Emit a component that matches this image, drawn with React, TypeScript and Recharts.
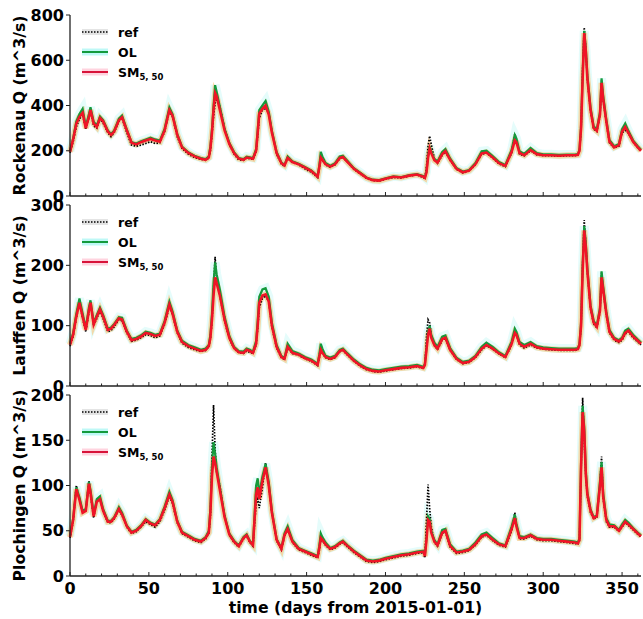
import React from 'react';
import { ComposedChart, Line, XAxis, YAxis } from 'recharts';

// days since 2015-01-01 (denser around flood peaks)
const DAYS = [
  0, 2, 4, 6, 8, 10, 12, 13, 15, 17,
  19, 21, 24, 26, 28, 31, 33, 36, 39, 42,
  45, 48, 51, 54, 57, 60, 63, 65, 68, 71,
  75, 79, 83, 86, 88, 89, 90, 91, 92, 93,
  95, 98, 101, 104, 107, 110, 112, 114, 116, 118,
  119, 120, 122, 124, 126, 128, 131, 134, 136, 138,
  141, 145, 149, 153, 157, 158, 159, 160, 162, 165,
  168, 171, 173, 176, 180, 184, 188, 192, 196, 200,
  205, 210, 215, 220, 224, 225, 226, 227, 228, 229,
  231, 233, 236, 238, 241, 245, 249, 253, 257, 261,
  264, 268, 272, 276, 280, 282, 283, 285, 288, 292,
  296, 300, 305, 310, 315, 320, 322, 323, 324, 325,
  326, 327, 328, 330, 332, 334, 336, 337, 338, 340,
  342, 345, 348, 350, 352, 354, 357, 360, 362,
];

// Rockenau discharge (m^3/s)
const ROCKENAU_REF = [
  190, 240, 305, 340, 360, 295, 345, 375, 310, 300,
  340, 322, 280, 262, 280, 330, 345, 280, 225, 220,
  225, 232, 240, 232, 235, 285, 375, 350, 262, 210,
  185, 170, 162, 158, 168, 200, 270, 350, 410, 430,
  395, 300, 228, 185, 160, 158, 168, 165, 162, 195,
  265, 345, 380, 390, 365, 285, 185, 140, 132, 165,
  148, 138, 120, 105, 82, 118, 160, 158, 138, 127,
  138, 165, 170, 148, 118, 98, 78, 68, 66, 74,
  82, 80, 88, 93, 82, 78, 130, 220, 265, 230,
  165, 145, 180, 195, 158, 118, 102, 110, 138, 185,
  190, 168, 142, 130, 190, 275, 250, 185, 178, 200,
  182, 178, 178, 176, 178, 178, 180, 198, 290, 560,
  745, 650, 515, 375, 295, 285, 355, 510, 425, 325,
  235, 212, 220, 280, 290, 278, 238, 212, 198,
];
const ROCKENAU_OL = [
  198, 255, 330, 362, 385, 308, 362, 392, 328, 312,
  352, 336, 290, 274, 290, 342, 356, 295, 238, 232,
  242, 250, 258, 250, 245, 298, 392, 362, 275, 218,
  193, 178, 168, 163, 175, 220, 295, 400, 490, 460,
  395, 298, 235, 194, 168, 163, 174, 171, 168, 208,
  292, 380, 400, 420, 372, 288, 195, 148, 138, 175,
  154, 143, 128, 113, 88, 132, 195, 175, 146, 134,
  145, 175, 178, 155, 123, 103, 82, 72, 70, 78,
  87, 84, 92, 97, 88, 82, 108, 178, 220, 198,
  164, 153, 195, 208, 166, 124, 108, 115, 146, 198,
  200, 176, 150, 137, 205, 270, 255, 198, 186, 212,
  190, 184, 184, 182, 183, 183, 185, 205, 310, 535,
  730, 655, 535, 392, 308, 295, 372, 520, 445, 340,
  248, 220, 230, 295, 320, 288, 246, 220, 204,
];
const ROCKENAU_SM = [
  195, 250, 320, 350, 368, 300, 350, 380, 320, 305,
  345, 330, 285, 270, 285, 335, 348, 290, 235, 228,
  238, 245, 252, 245, 240, 290, 380, 355, 270, 215,
  190, 175, 165, 160, 170, 210, 280, 380, 455, 440,
  380, 290, 230, 190, 165, 160, 170, 168, 165, 200,
  280, 365, 385, 400, 360, 280, 190, 145, 135, 168,
  150, 140, 125, 110, 85, 125, 170, 160, 140, 130,
  140, 168, 172, 150, 120, 100, 80, 70, 68, 76,
  85, 82, 90, 95, 85, 80, 105, 170, 210, 190,
  158, 148, 185, 198, 160, 120, 105, 112, 140, 188,
  192, 170, 145, 133, 195, 245, 238, 190, 180, 203,
  185, 180, 180, 178, 180, 180, 182, 200, 300, 520,
  720, 640, 520, 380, 300, 288, 360, 500, 430, 330,
  240, 215, 225, 285, 305, 280, 240, 215, 200,
];

// Lauffen discharge (m^3/s)
const LAUFFEN_REF = [
  66, 82, 112, 140, 112, 90, 122, 140, 100, 112,
  125, 112, 90, 92, 98, 110, 108, 88, 74, 76,
  80, 85, 84, 80, 83, 102, 132, 118, 88, 71,
  64, 60, 57, 59, 65, 78, 105, 160, 214, 175,
  150, 108, 78, 62, 55, 54, 58, 56, 54, 68,
  95, 130, 145, 150, 140, 98, 63, 47, 44, 63,
  54, 51, 45, 41, 34, 46, 58, 54, 47, 44,
  47, 57, 59, 51, 41, 33, 27, 24, 23, 25,
  27, 29, 30, 32, 29, 34, 80, 110, 105, 85,
  67, 60, 76, 79, 59, 44, 37, 39, 47, 60,
  67, 61, 53, 47, 68, 92, 86, 68, 63, 68,
  63, 61, 60, 59, 59, 59, 60, 67, 98, 200,
  275, 235, 188, 128, 103, 96, 123, 188, 158, 118,
  88, 76, 72, 76, 86, 90, 80, 73, 68,
];
const LAUFFEN_OL = [
  70, 88, 120, 145, 120, 96, 130, 142, 105, 118,
  130, 118, 95, 97, 103, 114, 113, 92, 78, 80,
  84, 90, 88, 85, 87, 108, 140, 124, 92, 75,
  68, 64, 60, 62, 68, 85, 120, 170, 205, 185,
  160, 115, 83, 65, 58, 57, 62, 60, 57, 75,
  108, 148, 160, 162, 148, 105, 68, 50, 47, 70,
  58, 54, 48, 44, 37, 52, 70, 62, 50, 47,
  50, 60, 62, 54, 44, 36, 30, 27, 26, 28,
  30, 32, 33, 35, 32, 37, 63, 90, 100, 85,
  72, 65, 82, 84, 63, 47, 40, 42, 50, 65,
  72, 65, 56, 50, 74, 95, 90, 73, 68, 73,
  66, 64, 63, 62, 62, 62, 63, 70, 105, 200,
  265, 238, 196, 134, 108, 100, 130, 190, 166, 124,
  93, 80, 76, 80, 92, 95, 85, 77, 72,
];
const LAUFFEN_SM = [
  68, 85, 115, 138, 115, 93, 125, 138, 102, 115,
  127, 115, 93, 95, 101, 112, 110, 90, 76, 78,
  82, 88, 86, 83, 85, 105, 135, 120, 90, 73,
  66, 62, 58, 60, 66, 80, 110, 150, 180, 170,
  150, 110, 80, 63, 56, 55, 60, 58, 55, 70,
  100, 138, 150, 152, 140, 100, 65, 48, 45, 65,
  55, 52, 46, 42, 35, 48, 60, 55, 48, 45,
  48, 58, 60, 52, 42, 34, 28, 25, 24, 26,
  28, 30, 31, 33, 30, 35, 60, 85, 95, 80,
  68, 62, 78, 80, 60, 45, 38, 40, 48, 62,
  68, 62, 54, 48, 70, 88, 85, 70, 65, 70,
  64, 62, 61, 60, 60, 60, 61, 68, 100, 190,
  258, 230, 190, 130, 105, 98, 125, 180, 160, 120,
  90, 78, 74, 78, 88, 92, 82, 75, 70,
];

// Plochingen discharge (m^3/s)
const PLOCHINGEN_REF = [
  42, 60, 100, 85, 70, 72, 105, 90, 64, 84,
  86, 71, 59, 59, 63, 73, 67, 54, 47, 49,
  54, 60, 57, 54, 60, 73, 88, 80, 59, 47,
  43, 39, 37, 41, 47, 65, 130, 189, 140, 114,
  100, 66, 45, 37, 32, 41, 44, 37, 33, 80,
  85, 75, 98, 125, 100, 69, 39, 29, 44, 51,
  37, 29, 26, 23, 20, 28, 40, 39, 34, 29,
  31, 35, 37, 32, 26, 21, 16, 15, 16, 18,
  20, 22, 23, 25, 26, 20, 60, 101, 75, 55,
  37, 33, 47, 49, 32, 25, 26, 28, 34, 43,
  45, 39, 34, 32, 50, 70, 56, 41, 41, 44,
  40, 39, 39, 38, 37, 36, 35, 39, 115, 197,
  150, 110, 88, 70, 63, 65, 100, 132, 86, 60,
  54, 54, 49, 54, 59, 56, 51, 46, 43,
];
const PLOCHINGEN_OL = [
  44, 64, 98, 87, 72, 74, 104, 95, 68, 85,
  88, 74, 61, 61, 65, 76, 70, 56, 49, 51,
  56, 63, 59, 57, 63, 77, 93, 84, 61, 49,
  45, 41, 39, 43, 50, 75, 120, 148, 135, 120,
  98, 67, 47, 39, 34, 43, 46, 39, 35, 100,
  108, 90, 110, 124, 104, 72, 41, 31, 47, 55,
  40, 31, 28, 25, 22, 33, 47, 43, 37, 31,
  33, 37, 39, 34, 28, 23, 18, 17, 18, 20,
  22, 24, 25, 27, 28, 23, 42, 66, 63, 50,
  40, 35, 51, 52, 35, 27, 28, 30, 37, 46,
  48, 42, 36, 34, 55, 68, 58, 44, 43, 46,
  42, 41, 41, 40, 39, 38, 37, 42, 125, 188,
  165, 118, 92, 74, 65, 67, 105, 126, 92, 64,
  57, 56, 51, 57, 62, 59, 53, 48, 45,
];
const PLOCHINGEN_SM = [
  43, 62, 96, 84, 70, 72, 102, 92, 66, 82,
  85, 72, 60, 60, 64, 74, 68, 55, 48, 50,
  55, 62, 58, 56, 62, 75, 90, 82, 60, 48,
  44, 40, 38, 42, 48, 70, 110, 132, 125, 115,
  95, 65, 46, 38, 33, 42, 45, 38, 34, 90,
  98, 85, 105, 120, 100, 70, 40, 30, 45, 52,
  38, 30, 27, 24, 21, 30, 42, 40, 35, 30,
  32, 36, 38, 33, 27, 22, 17, 16, 17, 19,
  21, 23, 24, 26, 27, 22, 40, 62, 60, 48,
  38, 34, 48, 50, 33, 26, 27, 29, 35, 44,
  46, 40, 35, 33, 52, 64, 55, 42, 42, 45,
  41, 40, 40, 39, 38, 37, 36, 40, 120, 181,
  160, 112, 90, 72, 64, 66, 100, 120, 88, 62,
  55, 55, 50, 55, 60, 57, 52, 47, 44,
];

const X_TICKS = [0, 10, 20, 30, 40, 50, 60, 70, 80, 90, 100, 110, 120, 130, 140, 150, 160, 170, 180,
  190, 200, 210, 220, 230, 240, 250, 260, 270, 280, 290, 300, 310, 320, 330, 340, 350, 360];
const ROCKENAU_TICKS = [0, 200, 400, 600, 800];
const LAUFFEN_TICKS = [0, 100, 200, 300];
const PLOCHINGEN_TICKS = [0, 50, 100, 150, 200];

const FONT = '"DejaVu Sans", sans-serif';
const AXIS = '#222';
const OL_COLOR = '#149a3c';
const SM_COLOR = '#f01426';
const PLOT_LEFT = 70;
const PLOT_H = 181;

const makeXTick = (showLabel: boolean) => (props: any) => {
  const { x, y, payload } = props;
  const major = payload.value % 50 === 0;
  return (
    <g>
      <line x1={x} x2={x} y1={y} y2={y - (major ? 4 : 2.5)} stroke={AXIS} strokeWidth={1} />
      {showLabel && major && (
        <text x={x} y={y + 18} textAnchor="middle" fontSize={16} fontWeight="bold" fontFamily={FONT} fill="#000">
          {payload.value}
        </text>
      )}
    </g>
  );
};

interface PanelProps {
  top: number;
  marginTop: number;
  xAxisHeight: number;
  showXLabels: boolean;
  refQ: number[];
  olQ: number[];
  smQ: number[];
  yMax: number;
  yTicks: number[];
}

const Panel: React.FC<PanelProps> = ({ top, marginTop, xAxisHeight, showXLabels, refQ, olQ, smQ, yMax, yTicks }) => {
  const rows = DAYS.map((day, i) => ({ day, ref: refQ[i], ol: olQ[i], sm: smQ[i] }));
  const height = marginTop + PLOT_H + xAxisHeight;
  return (
    <div style={{ position: 'absolute', left: 0, top, width: 643, height }}>
      <ComposedChart width={643} height={height} data={rows} margin={{ top: marginTop, right: 2, bottom: 0, left: 10 }}>
        <XAxis
          dataKey="day"
          type="number"
          domain={[0, 362]}
          ticks={X_TICKS}
          interval={0}
          height={xAxisHeight}
          tickSize={0}
          tickMargin={0}
          tickLine={false}
          tick={makeXTick(showXLabels)}
          axisLine={{ stroke: AXIS, strokeWidth: 1.3 }}
        />
        <XAxis xAxisId="top" orientation="top" dataKey="day" type="number" domain={[0, 362]} height={0}
          tick={false} tickLine={false} axisLine={{ stroke: AXIS, strokeWidth: 1.3 }} />
        <YAxis
          type="number"
          domain={[0, yMax]}
          ticks={yTicks}
          interval={0}
          width={PLOT_LEFT - 10}
          tickSize={4}
          tickMargin={2}
          tickLine={{ stroke: AXIS }}
          axisLine={{ stroke: AXIS, strokeWidth: 1.3 }}
          tick={{ fontSize: 16, fontWeight: 'bold', fill: '#000', fontFamily: FONT }}
        />
        <YAxis yAxisId="right" orientation="right" type="number" domain={[0, yMax]} width={0}
          tick={false} tickLine={false} axisLine={{ stroke: AXIS, strokeWidth: 1.3 }} />

        {/* soft ensemble halos */}
        <Line key="olHalo" dataKey="ol" stroke="#7ff2ec" strokeWidth={9} strokeOpacity={0.2} dot={false} activeDot={false} isAnimationActive={false} />
        <Line key="smHalo" dataKey="sm" stroke="#ffb04a" strokeWidth={6} strokeOpacity={0.45} dot={false} activeDot={false} isAnimationActive={false} />

        <Line key="ref" dataKey="ref" stroke="#000" strokeWidth={1.7} strokeDasharray="1.5 1.5" dot={false} isAnimationActive={false} />
        <Line key="ol" dataKey="ol" stroke={OL_COLOR} strokeWidth={2.2} dot={false} isAnimationActive={false} />
        <Line key="sm" dataKey="sm" stroke={SM_COLOR} strokeWidth={2.6} dot={false} isAnimationActive={false} />
      </ComposedChart>
    </div>
  );
};

const LegendBox: React.FC<{ top: number }> = ({ top }) => {
  const rows = [top + 17, top + 37, top + 57];
  const textProps = { fontSize: 12.5, fontWeight: 'bold' as const, fontFamily: FONT, fill: '#000' };
  return (
    <g>
      <line x1={82} x2={108} y1={rows[0]} y2={rows[0]} stroke="#bbb" strokeWidth={6} strokeOpacity={0.4} />
      <line x1={82} x2={108} y1={rows[0]} y2={rows[0]} stroke="#000" strokeWidth={1.6} strokeDasharray="1.5 1.5" />
      <text x={118} y={rows[0] + 4.5} {...textProps}>ref</text>

      <line x1={82} x2={108} y1={rows[1]} y2={rows[1]} stroke="#6ff0ea" strokeWidth={7} strokeOpacity={0.45} />
      <line x1={82} x2={108} y1={rows[1]} y2={rows[1]} stroke={OL_COLOR} strokeWidth={2} />
      <text x={118} y={rows[1] + 4.5} {...textProps}>OL</text>

      <line x1={82} x2={108} y1={rows[2]} y2={rows[2]} stroke="#ffb6c8" strokeWidth={7} strokeOpacity={0.6} />
      <line x1={82} x2={108} y1={rows[2]} y2={rows[2]} stroke="#d8143a" strokeWidth={2} />
      <text x={118} y={rows[2] + 4.5} {...textProps}>
        SM<tspan fontSize={8.5} dy={3}>5, 50</tspan>
      </text>
    </g>
  );
};

const YLabel: React.FC<{ cy: number; text: string }> = ({ cy, text }) => (
  <text
    x={19}
    y={cy}
    transform={`rotate(-90 19 ${cy})`}
    textAnchor="middle"
    dominantBaseline="central"
    fontSize={15.7}
    fontWeight="bold"
    fontFamily={FONT}
    fill="#000"
  >
    {text}
  </text>
);

export default function App() {
  return (
    <div style={{ position: 'absolute', left: 0, top: 0, width: 643, height: 619, background: '#fff', overflow: 'hidden' }}>
      <style>{'.recharts-surface{overflow:visible}'}</style>
      <Panel top={0} marginTop={15} xAxisHeight={4} showXLabels={false}
        refQ={ROCKENAU_REF} olQ={ROCKENAU_OL} smQ={ROCKENAU_SM} yMax={800} yTicks={ROCKENAU_TICKS} />
      <Panel top={195} marginTop={10} xAxisHeight={4} showXLabels={false}
        refQ={LAUFFEN_REF} olQ={LAUFFEN_OL} smQ={LAUFFEN_SM} yMax={300} yTicks={LAUFFEN_TICKS} />
      <Panel top={385} marginTop={10} xAxisHeight={43} showXLabels={true}
        refQ={PLOCHINGEN_REF} olQ={PLOCHINGEN_OL} smQ={PLOCHINGEN_SM} yMax={200} yTicks={PLOCHINGEN_TICKS} />
      <svg width={643} height={619} style={{ position: 'absolute', left: 0, top: 0, pointerEvents: 'none' }}>
        <YLabel cy={105.5} text="Rockenau Q (m^3/s)" />
        <YLabel cy={295.5} text="Lauffen Q (m^3/s)" />
        <YLabel cy={485.5} text="Plochingen Q (m^3/s)" />
        <LegendBox top={15} />
        <LegendBox top={205} />
        <LegendBox top={395} />
        <text x={355.5} y={613} textAnchor="middle" fontSize={15.7} fontWeight="bold" fontFamily={FONT} fill="#000">
          time (days from 2015-01-01)
        </text>
      </svg>
    </div>
  );
}
